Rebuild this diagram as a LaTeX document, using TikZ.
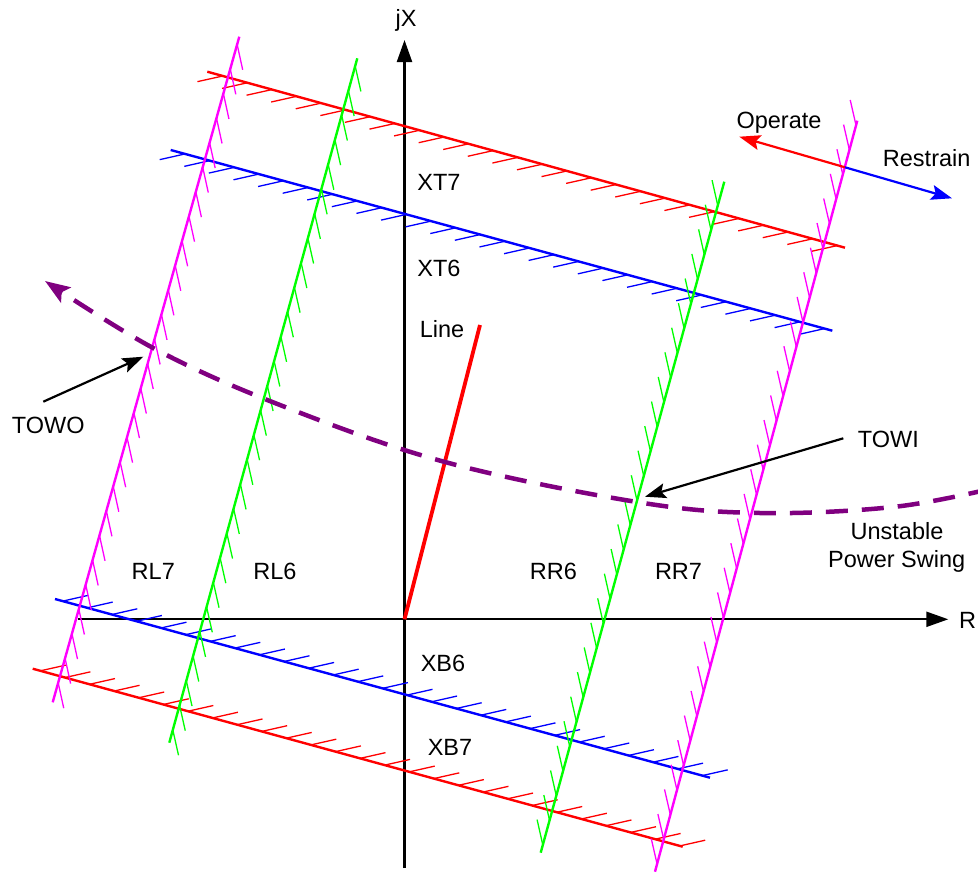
\documentclass[tikz,border=0pt]{standalone}
\usepackage{fontspec}
\setmainfont{Liberation Sans}
\usetikzlibrary{arrows.meta,decorations.markings}
\definecolor{pgreen}{RGB}{0,255,0}
\definecolor{pmag}{RGB}{255,0,255}
\definecolor{ppurple}{RGB}{128,0,128}
\begin{document}
\begin{tikzpicture}[x=1pt,y=1pt,
  lbl/.style={inner sep=0pt, anchor=base, font=\fontsize{23.5}{28}\selectfont},
  bound/.style={line width=2.4pt, draw=#1, postaction={decorate, decoration={markings,
     mark=between positions 8pt and 1 step 25.5pt with {\draw[draw=#1, line width=1.3pt] (0,0) -- (28:26pt);}}}},
  axis/.style={line width=2.2pt, -{Triangle[length=22pt,width=15pt]}},
  pointer/.style={line width=2.2pt, -{Stealth[length=21pt,width=15pt,inset=4pt]}},
  swing/.style={draw=ppurple, line width=4.5pt, dash pattern=on 22pt off 14pt,
     -{Stealth[length=25pt,width=18pt,inset=5pt]}}]
\useasboundingbox (0,0) rectangle (978,-873);
% boundary coordinates
\coordinate (t7a) at (845,-247.7);  \coordinate (t7b) at (207.3,-71.7);
\coordinate (t6a) at (832.3,-330.7); \coordinate (t6b) at (170.7,-150);
\coordinate (b6a) at (55,-599);     \coordinate (b6b) at (710,-777.7);
\coordinate (b7a) at (32.7,-668.7); \coordinate (b7b) at (682.7,-846.7);
\coordinate (l7a) at (239.3,-36.7); \coordinate (l7b) at (52.7,-702.3);
\coordinate (l6a) at (357.3,-58.3); \coordinate (l6b) at (169.3,-742.7);
\coordinate (r6a) at (540.7,-852.7); \coordinate (r6b) at (724.3,-181.7);
\coordinate (r7a) at (655,-871.7);  \coordinate (r7b) at (857.3,-120.7);
% axes
\coordinate (xl) at (78,-619.3);   \coordinate (xr) at (948.3,-619.3);
\coordinate (yb) at (404.5,-868);  \coordinate (yt) at (404.5,-40);
\coordinate (o) at (404.5,-619.3); \coordinate (lend) at (480,-325);
\draw[axis] (xl) -- (xr);
\draw[axis] (yb) -- (yt);
% boundaries
\draw[bound=red] (t7a) -- (t7b);
\draw[bound=blue] (t6a) -- (t6b);
\draw[bound=blue] (b6a) -- (b6b);
\draw[bound=red] (b7a) -- (b7b);
\draw[bound=pmag] (l7a) -- (l7b);
\draw[bound=pgreen] (l6a) -- (l6b);
\draw[bound=pgreen] (r6a) -- (r6b);
\draw[bound=pmag] (r7a) -- (r7b);
% line impedance
\draw[red, line width=3.8pt] (o) -- (lend);
% operate / restrain
\coordinate (oc) at (845,-167.3);
\coordinate (optip) at (739.3,-136.7);
\coordinate (rstip) at (952,-198.3);
\draw[pointer, red] (oc) -- (optip);
\draw[pointer, blue] (oc) -- (rstip);
% swing
\draw[swing] plot[smooth, tension=0.6] coordinates {(990,-489) (893,-507) (760,-513) (637,-502) (445,-462) (280,-405) (155,-349) (45,-281)};
% pointers
\coordinate (towoS) at (43.3,-401.7); \coordinate (towoT) at (143.3,-356.7);
\coordinate (towiS) at (843.3,-438.3); \coordinate (towiT) at (645,-496.7);
\draw[pointer, black] (towoS) -- (towoT);
\draw[pointer, black] (towiS) -- (towiT);
% labels
\node[lbl] (jx) at (406,-26.7) {jX};
\node[lbl, anchor=base west] (rl) at (959,-628) {R};
\node[lbl] (op) at (779,-128.3) {Operate};
\node[lbl] (rs) at (926.7,-166) {Restrain};
\node[lbl] (xt7) at (439,-190) {XT7};
\node[lbl] (xt6) at (439,-276) {XT6};
\node[lbl] (ln) at (442,-337) {Line};
\node[lbl] (rl7) at (153.3,-579) {RL7};
\node[lbl] (rl6) at (275,-579) {RL6};
\node[lbl] (rr6) at (553.5,-579) {RR6};
\node[lbl] (rr7) at (678.5,-579) {RR7};
\node[lbl] (xb6) at (443,-671) {XB6};
\node[lbl] (xb7) at (450,-755) {XB7};
\node[lbl] (towo) at (48.3,-433) {TOWO};
\node[lbl] (towi) at (888.3,-447) {TOWI};
\node[lbl] (uns) at (897,-539) {Unstable};
\node[lbl] (psw) at (896.7,-567) {Power Swing};
\end{tikzpicture}
\end{document}
